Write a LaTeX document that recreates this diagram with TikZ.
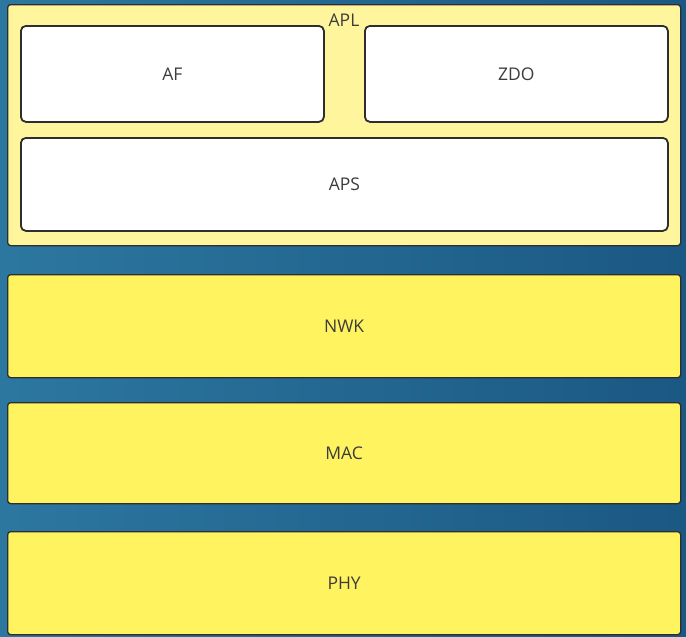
\documentclass[tikz,border=0pt]{standalone}
\usepackage{fontspec}
\setmainfont{Open Sans}
\usetikzlibrary{positioning}

\definecolor{bgtop}{HTML}{2C77A0}
\definecolor{bgbot}{HTML}{1B5883}
\definecolor{aplfill}{HTML}{FFF59C}
\definecolor{layerfill}{HTML}{FFF35F}
\definecolor{edge}{HTML}{2E2E2E}
\definecolor{txt}{HTML}{3C3C3C}

\tikzset{
  layer/.style={draw=edge, line width=1.3pt, rounded corners=3pt, fill=layerfill,
    text=txt, font=\fontsize{17.5}{20}\selectfont, inner sep=0pt},
  sub/.style={layer, fill=white, line width=1.8pt, rounded corners=5pt},
}

\begin{document}
\begin{tikzpicture}[x=1pt, y=-1pt]
  \shade[left color=bgtop, right color=bgbot] (0,0) rectangle (686,637);
  \useasboundingbox (0,0) rectangle (686,637);

  % application layer with its three parts
  \node[layer, fill=aplfill, anchor=north west, minimum width=673, minimum height=241] (apl) at (7,4) {};
  \node[text=txt, font=\fontsize{17.5}{20}\selectfont, inner sep=0pt] (apllabel) at (344,20) {APL};
  \node[sub, anchor=north west, minimum width=303, minimum height=96] (af) at (20,25) {AF};
  \node[sub, anchor=north west, minimum width=303, minimum height=96] (zdo) at (364,25) {ZDO};
  \node[sub, anchor=north west, minimum width=647, minimum height=93] (aps) at (20,137) {APS};

  % lower layers
  \node[layer, anchor=north west, minimum width=673, minimum height=103] (nwk) at (7,274) {NWK};
  \node[layer, anchor=north west, minimum width=673, minimum height=101] (mac) at (7,402) {MAC};
  \node[layer, anchor=north west, minimum width=673, minimum height=103] (phy) at (7,531) {PHY};
\end{tikzpicture}
\end{document}
